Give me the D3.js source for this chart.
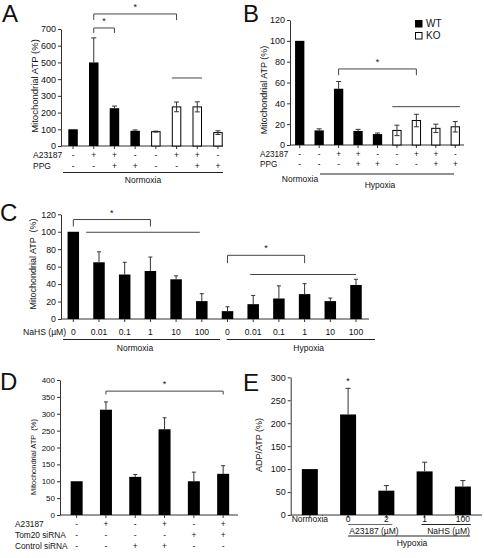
<!DOCTYPE html>
<html><head><meta charset="utf-8">
<script src="https://cdn.jsdelivr.net/npm/d3@7"></script>
<style>
body{margin:0;background:#fff}
svg{display:block}
text{font-family:"Liberation Sans",Arial,sans-serif;fill:#111}
</style>
</head><body>
<svg id="chart" width="484" height="558"></svg>
<script>
// ---------------- DATA ----------------
// Panel A
const aValues = [100, 500, 226, 91, 86, 234, 234, 80];
const aErrors = [0, 147, 13, 5, 3, 29, 30, 11];
const aOpen = [false, false, false, false, true, true, true, true];
const aA23187 = ["-", "+", "+", "-", "-", "+", "+", "-"];
const aPPG = ["-", "-", "+", "+", "-", "-", "+", "+"];
const aTicks = [0, 100, 200, 300, 400, 500, 600, 700];

// Panel B
const bValues = [100, 14, 54, 13.5, 10.5, 14, 23.5, 16, 17.5];
const bErrors = [0, 1.5, 7, 1.5, 1, 5, 6, 4, 5];
const bOpen = [false, false, false, false, false, true, true, true, true];
const bA23187 = ["-", "-", "+", "+", "-", "-", "+", "+", "-"];
const bPPG = ["-", "-", "-", "+", "+", "-", "-", "+", "+"];
const bTicks = [0, 20, 40, 60, 80, 100, 120];
const bLegend = ["WT", "KO"];

// Panel C
const cValues = [100, 65, 51, 55, 45.5, 20.5, 9, 17, 23.5, 28.5, 20.5, 39];
const cErrors = [0, 12, 14, 16, 4, 8.5, 5, 10, 14.5, 12, 3.5, 6.5];
const cNaHS = ["0", "0.01", "0.1", "1", "10", "100", "0", "0.01", "0.1", "1", "10", "100"];
const cTicks = [0, 20, 40, 60, 80, 100, 120];

// Panel D
const dValues = [100, 312, 113, 254, 100, 122];
const dErrors = [0, 23, 7, 34, 27, 24];
const dA23187 = ["-", "+", "-", "+", "-", "+"];
const dTom20 = ["-", "-", "-", "-", "+", "+"];
const dControl = ["-", "-", "+", "+", "-", "-"];
const dTicks = [0, 50, 100, 150, 200, 250, 300, 350, 400];

// Panel E
const eValues = [100, 219, 53, 95, 62];
const eErrors = [0, 57, 11, 20, 13];
const eLabels = ["Normoxia", "0", "2", "1", "100"];
const eTicks = [0, 50, 100, 150, 200, 250, 300];

// significance annotations (bar indices, heights in data units)
const aBrackets = [{from: 1, to: 5, level: 790, drop: 36}, {from: 1, to: 2, level: 706, drop: 30}];
const bBrackets = [{from: 2, to: 6, level: 73, drop: 6}];
const cBrackets = [{from: 0, to: 3, level: 114, drop: 8}, {from: 6, to: 9, level: 73, drop: 9}];
const dBrackets = [{from: 1, to: 5, level: 367, drop: 10}];

// ---------------- DRAW ----------------
const svg = d3.select("#chart");
const FONT = '"Liberation Sans",Arial,sans-serif';
const LINE = "#333";

function panel(o) {
  const g = svg.append("g");
  const n = o.values.length;
  const x = d3.scaleBand().domain(d3.range(n)).range(o.xRange).padding(0);
  const y = d3.scaleLinear().domain(o.yDomain).range(o.yRange);
  const cx = i => x(i) + x.bandwidth() / 2;
  const bw = o.barWidth;
  const isOpen = i => o.open ? o.open[i] : false;

  // y axis
  const ya = g.append("g").attr("transform", `translate(${o.axisX},0)`)
    .call(d3.axisLeft(y).tickValues(o.ticks).tickSize(3).tickSizeOuter(0).tickPadding(2));
  ya.selectAll("text").attr("font-size", o.tickFont).attr("font-family", FONT).attr("fill", "#111");
  ya.selectAll("line,path").attr("stroke", LINE);

  // x axis
  const xa = g.append("g").attr("transform", `translate(0,${y(0)})`)
    .call(d3.axisBottom(x).tickFormat("").tickSize(3).tickSizeOuter(0));
  xa.select(".domain").remove();
  xa.selectAll("line").attr("stroke", LINE);
  g.append("line").attr("x1", o.axisX).attr("x2", o.axisEnd).attr("y1", y(0)).attr("y2", y(0))
    .attr("stroke", LINE).attr("stroke-width", 1);

  // bars
  g.selectAll("rect.bar").data(o.values).join("rect").attr("class", "bar")
    .attr("x", (d, i) => cx(i) - bw / 2 + (isOpen(i) ? 0.5 : 0))
    .attr("y", d => y(d))
    .attr("width", (d, i) => bw - (isOpen(i) ? 1 : 0))
    .attr("height", d => y(0) - y(d))
    .attr("fill", (d, i) => isOpen(i) ? "#fff" : "#000")
    .attr("stroke", (d, i) => isOpen(i) ? "#000" : "none")
    .attr("stroke-width", 1);

  // error bars
  const cap = o.cap;
  o.values.forEach((v, i) => {
    const e = o.errors[i];
    if (!e) return;
    const top = y(v + e), bot = isOpen(i) ? y(v - e) : y(v);
    g.append("line").attr("x1", cx(i)).attr("x2", cx(i)).attr("y1", top).attr("y2", bot)
      .attr("stroke", "#333").attr("stroke-width", 1);
    g.append("line").attr("x1", cx(i) - cap / 2).attr("x2", cx(i) + cap / 2).attr("y1", top).attr("y2", top)
      .attr("stroke", "#333").attr("stroke-width", 1);
    if (isOpen(i)) {
      g.append("line").attr("x1", cx(i) - cap / 2).attr("x2", cx(i) + cap / 2).attr("y1", bot).attr("y2", bot)
        .attr("stroke", "#333").attr("stroke-width", 1);
    }
  });

  // brackets
  (o.brackets || []).forEach(b => {
    const x1 = cx(b.from), x2 = cx(b.to), yl = y(b.level), yd = y(b.level - b.drop);
    g.append("path").attr("d", `M${x1},${yd}V${yl}H${x2}V${yd}`)
      .attr("fill", "none").attr("stroke", "#444").attr("stroke-width", 1);
    g.append("text").attr("x", (x1 + x2) / 2).attr("y", yl - 4).attr("text-anchor", "middle")
      .attr("font-size", 9).text("*");
  });

  // y label
  g.append("text").attr("transform", `translate(${o.yLabelPos[0]},${o.yLabelPos[1]}) rotate(-90)`)
    .attr("text-anchor", "middle").attr("dy", "0.35em").attr("font-size", o.yLabelFont)
    .style("white-space", "pre").text(o.yLabel);

  // panel letter
  g.append("text").attr("x", o.letterPos[0]).attr("y", o.letterPos[1]).attr("font-size", 24).text(o.letter);

  return {g, x, y, cx};
}

function row(p, symbols, yCenter, label, labelX, fs) {
  if (label) p.g.append("text").attr("x", labelX).attr("y", yCenter).attr("dy", "0.35em")
    .attr("font-size", fs).style("white-space", "pre").text(label);
  p.g.selectAll(null).data(symbols).join("text")
    .attr("x", (d, i) => p.cx(i)).attr("y", yCenter).attr("dy", "0.35em")
    .attr("text-anchor", "middle").attr("font-size", fs).text(d => d);
}
function hline(x1, x2, yy, color) {
  svg.append("line").attr("x1", x1).attr("x2", x2).attr("y1", yy).attr("y2", yy)
    .attr("stroke", color || "#222").attr("stroke-width", 1);
}
function label(txt, xx, yy, fs, anchor) {
  svg.append("text").attr("x", xx).attr("y", yy).attr("dy", "0.35em")
    .attr("text-anchor", anchor || "middle").attr("font-size", fs).text(txt);
}

// ---- Panel A ----
const pA = panel({
  values: aValues, errors: aErrors, open: aOpen, brackets: aBrackets,
  xRange: [62.7, 228.3], yDomain: [0, 700], yRange: [146, 29], ticks: aTicks,
  axisX: 61, axisEnd: 223, barWidth: 9.5, cap: 5, tickFont: 9,
  yLabel: "Mitochondrial ATP (%)", yLabelPos: [35, 86], yLabelFont: 9.5,
  letter: "A", letterPos: [2, 22]
});
hline(pA.cx(5) - 4.7, pA.cx(6) + 4.7, pA.y(407), "#444");
row(pA, aA23187, 155, "A23187", 33, 8.5);
row(pA, aPPG, 166, "PPG", 33, 8.5);
hline(63, 223, 172.5);
label("Normoxia", 143, 180, 8.5);

// ---- Panel B ----
const pB = panel({
  values: bValues, errors: bErrors, open: bOpen, brackets: bBrackets,
  xRange: [290, 465], yDomain: [0, 120], yRange: [145, 20], ticks: bTicks,
  axisX: 290, axisEnd: 464, barWidth: 9.3, cap: 5, tickFont: 9,
  yLabel: "Mitochondrial ATP (%)", yLabelPos: [264, 90], yLabelFont: 9,
  letter: "B", letterPos: [243, 22]
});
hline(pB.cx(5) - 4.6, pB.cx(8) + 4.6, pB.y(36.8), "#444");
row(pB, bA23187, 154.3, "A23187", 260, 8.2);
row(pB, bPPG, 164.2, "PPG", 260, 8.2);
hline(320, 454, 174);
label("Normoxia", 300, 179.5, 8.5);
label("Hypoxia", 380, 185.5, 8.5);
// legend
const legend = svg.append("g");
legend.selectAll("rect").data(bLegend).join("rect")
  .attr("x", 415.5).attr("y", (d, i) => 20.5 + i * 12).attr("width", 6.5).attr("height", 6.5)
  .attr("fill", (d, i) => i === 0 ? "#000" : "#fff").attr("stroke", "#000").attr("stroke-width", 1);
legend.selectAll("text").data(bLegend).join("text")
  .attr("x", 426).attr("y", (d, i) => 23.8 + i * 12).attr("dy", "0.35em")
  .attr("font-size", 10).text(d => d);

// ---- Panel C ----
const pC = panel({
  values: cValues, errors: cErrors, brackets: cBrackets,
  xRange: [60.45, 368.85], yDomain: [0, 120], yRange: [319, 214.3], ticks: cTicks,
  axisX: 61, axisEnd: 369, barWidth: 11.5, cap: 4, tickFont: 8.8,
  yLabel: "Mitochondrial ATP  (%)", yLabelPos: [33, 264], yLabelFont: 9,
  letter: "C", letterPos: [0, 221]
});
hline(pC.x(1), pC.cx(5) - 2, pC.y(99.4), "#444");
hline(pC.cx(7) - 3, pC.cx(11), pC.y(51), "#444");
row(pC, cNaHS, 331.5, "NaHS (\u00b5M)", 23, 8.6);
hline(63, 220, 339.5);
hline(226.7, 375, 339.5);
label("Normoxia", 135, 348.5, 8.5);
label("Hypoxia", 308.7, 348.5, 8.5);

// ---- Panel D ----
const pD = panel({
  values: dValues, errors: dErrors, brackets: dBrackets,
  xRange: [62, 237.8], yDomain: [0, 400], yRange: [515, 380], ticks: dTicks,
  axisX: 60, axisEnd: 238, barWidth: 12, cap: 4, tickFont: 8,
  yLabel: "Mitochondrial ATP  (%)", yLabelPos: [33, 457], yLabelFont: 7.5,
  letter: "D", letterPos: [0, 390]
});
row(pD, dA23187, 524, "A23187", 15, 8.3);
row(pD, dTom20, 535, "Tom20 siRNA", 15, 8.3);
row(pD, dControl, 546.5, "Control siRNA", 15, 8.3);

// ---- Panel E ----
const pE = panel({
  values: eValues, errors: eErrors,
  xRange: [290.7, 482], yDomain: [0, 300], yRange: [515, 377.3], ticks: eTicks,
  axisX: 290.7, axisEnd: 482, barWidth: 16, cap: 5, tickFont: 9,
  yLabel: "ADP/ATP (%)", yLabelPos: [258.7, 445], yLabelFont: 9,
  letter: "E", letterPos: [243, 391]
});
pE.g.append("text").attr("x", pE.cx(1)).attr("y", pE.y(eValues[1] + eErrors[1]) - 4)
  .attr("text-anchor", "middle").attr("font-size", 9).text("*");
row(pE, eLabels, 519.3, null, 0, 8.5);
hline(pE.cx(1), pE.cx(2) + 6, 524.5, "#666");
hline(pE.cx(3) - 3, pE.cx(4) + 8, 524.5, "#222");
label("A23187 (\u00b5M)", 374, 530.7, 8.5);
label("NaHS (\u00b5M)", 448.5, 530.7, 8.5);
hline(pE.cx(1), 470, 536);
label("Hypoxia", 412, 543.5, 8.5);
</script>
</body></html>
